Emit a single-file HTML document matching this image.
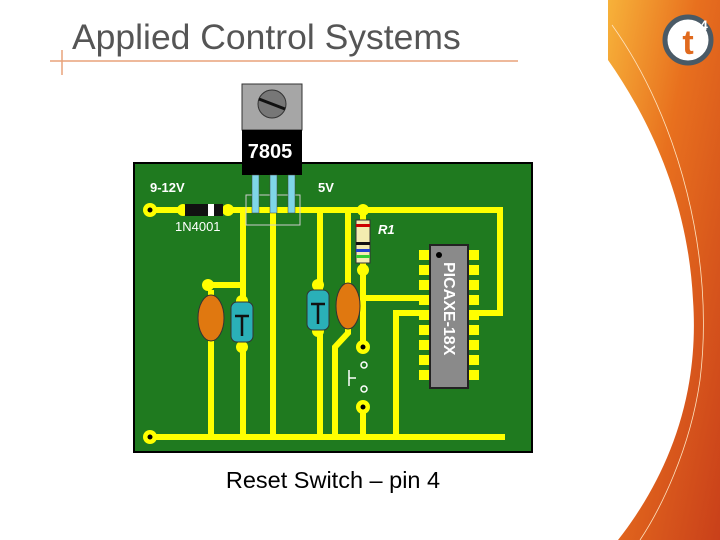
<!DOCTYPE html>
<html><head><meta charset="utf-8"><style>
html,body{margin:0;padding:0;background:#fff;width:720px;height:540px;overflow:hidden}
</style></head><body>
<svg width="720" height="540" viewBox="0 0 720 540" xmlns="http://www.w3.org/2000/svg" font-family="Liberation Sans, sans-serif">
<defs>
<linearGradient id="og" x1="0" y1="0" x2="1" y2="1">
<stop offset="0" stop-color="#f7b23a"/><stop offset="0.4" stop-color="#e8701e"/><stop offset="1" stop-color="#c9401a"/>
</linearGradient>
</defs>
<path d="M608 0 L720 0 L720 540 L618 540 C665 480 700 400 693 300 C688 200 650 120 608 60 Z" fill="url(#og)"/>
<path d="M612 25 C680 120 715 260 700 380 C690 450 660 510 640 540" fill="none" stroke="#fde3c0" stroke-width="0.8"/>
<circle cx="688" cy="40" r="23" fill="#fff" stroke="#4a5a66" stroke-width="5"/>
<text x="688" y="54" text-anchor="middle" font-size="34" font-weight="bold" fill="#e06a1e">t</text>
<text x="700" y="30" font-size="14" font-weight="bold" fill="#fff">4</text>

<text x="72" y="49" font-size="35.5" fill="#555">Applied Control Systems</text>
<line x1="50" y1="61" x2="518" y2="61" stroke="#e9a27a" stroke-width="1.5"/>
<line x1="62" y1="50" x2="62" y2="75" stroke="#e9a27a" stroke-width="1.5"/>

<rect x="134" y="163" width="398" height="289" fill="#1f7a1f" stroke="#000" stroke-width="2"/>
<g stroke="#ffff00" stroke-width="6" fill="none">
<path d="M150 210 H500 V313 H473"/>
<path d="M150 437 H505"/>
<path d="M243 210 V437"/><path d="M273 213 V437"/><path d="M320 210 V437"/>
<path d="M348 210 V333 L335 347 V437"/>
<path d="M363 210 V347"/><path d="M363 407 V437"/>
<path d="M363 298 H425"/>
<path d="M396 437 V313 H425"/>
<path d="M208 285 H243"/><path d="M211 290 V437"/>
<path d="M242 300 V347"/>
</g>
<g fill="#ffff00">
<circle cx="150" cy="210" r="7"/><circle cx="150" cy="437" r="7"/>
<circle cx="183" cy="210" r="6"/><circle cx="228" cy="210" r="6"/>
<circle cx="363" cy="210" r="6"/><circle cx="363" cy="270" r="6"/>
<circle cx="363" cy="347" r="7"/><circle cx="363" cy="407" r="7"/>
<circle cx="208" cy="285" r="6"/><circle cx="242" cy="301" r="6"/><circle cx="242" cy="347" r="6"/>
<circle cx="318" cy="285" r="6"/><circle cx="318" cy="331" r="6"/>
</g>
<g fill="#000"><circle cx="150" cy="210" r="2.5"/><circle cx="150" cy="437" r="2.5"/><circle cx="363" cy="347" r="2.5"/><circle cx="363" cy="407" r="2.5"/></g>
<text x="150" y="192" font-size="13" font-weight="bold" fill="#fff">9-12V</text>
<text x="318" y="192" font-size="13" font-weight="bold" fill="#fff">5V</text>
<text x="175" y="231" font-size="13" fill="#fff">1N4001</text>
<text x="378" y="234" font-size="13" font-weight="bold" font-style="italic" fill="#fff">R1</text>
<rect x="185" y="204" width="38" height="12" fill="#111"/><rect x="208" y="204" width="6" height="12" fill="#fff"/>
<rect x="246" y="195" width="54" height="30" fill="none" stroke="#ccc" stroke-width="1"/>
<rect x="242" y="84" width="60" height="46" fill="#a6a6a6" stroke="#333"/>
<circle cx="272" cy="104" r="14" fill="#777" stroke="#333"/>
<line x1="259" y1="99" x2="285" y2="109" stroke="#111" stroke-width="3"/>
<rect x="242" y="130" width="60" height="45" fill="#000"/>
<text x="270" y="158" font-size="20" font-weight="bold" fill="#fff" text-anchor="middle">7805</text>
<g fill="#7fd6e8" stroke="#444" stroke-width="0.5"><rect x="252" y="175" width="7" height="38"/><rect x="270" y="175" width="7" height="38"/><rect x="288" y="175" width="7" height="38"/></g>
<rect x="356" y="220" width="14" height="43" fill="#f3ecb0" stroke="#333"/>
<rect x="356" y="224" width="14" height="3" fill="#c00"/><rect x="356" y="242" width="14" height="3" fill="#111"/><rect x="356" y="249" width="14" height="3" fill="#2040d0"/><rect x="356" y="255" width="14" height="3" fill="#3c3"/>
<g fill="#e07810" stroke="#333"><ellipse cx="211" cy="318" rx="13" ry="23"/><ellipse cx="348" cy="306" rx="12" ry="23"/></g>
<g fill="#2ab0b8" stroke="#333"><rect x="231" y="302" width="22" height="40" rx="6"/><rect x="307" y="290" width="22" height="40" rx="6"/></g>
<g stroke="#111" stroke-width="2.5"><path d="M235 316 H249 M242 316 V336"/><path d="M311 304 H325 M318 304 V324"/></g>
<g stroke="#fff" stroke-width="1.5" fill="none"><circle cx="364" cy="365" r="3"/><circle cx="364" cy="389" r="3"/><path d="M349 370 V386 M349 378 H356"/></g>
<g fill="#ffff00">
<rect x="419" y="250" width="12" height="10"/><rect x="419" y="265" width="12" height="10"/><rect x="419" y="280" width="12" height="10"/><rect x="419" y="295" width="12" height="10"/><rect x="419" y="310" width="12" height="10"/><rect x="419" y="325" width="12" height="10"/><rect x="419" y="340" width="12" height="10"/><rect x="419" y="355" width="12" height="10"/><rect x="419" y="370" width="12" height="10"/>
<rect x="467" y="250" width="12" height="10"/><rect x="467" y="265" width="12" height="10"/><rect x="467" y="280" width="12" height="10"/><rect x="467" y="295" width="12" height="10"/><rect x="467" y="310" width="12" height="10"/><rect x="467" y="325" width="12" height="10"/><rect x="467" y="340" width="12" height="10"/><rect x="467" y="355" width="12" height="10"/><rect x="467" y="370" width="12" height="10"/>
</g>
<rect x="430" y="245" width="38" height="143" fill="#8a8a8a" stroke="#222" stroke-width="2"/>
<circle cx="439" cy="255" r="3" fill="#000"/>
<text transform="translate(444,262) rotate(90)" font-size="16" font-weight="bold" fill="#fff">PICAXE-18X</text>
<text x="333" y="488" font-size="23.5" fill="#000" text-anchor="middle">Reset Switch – pin 4</text>
</svg>
</body></html>
